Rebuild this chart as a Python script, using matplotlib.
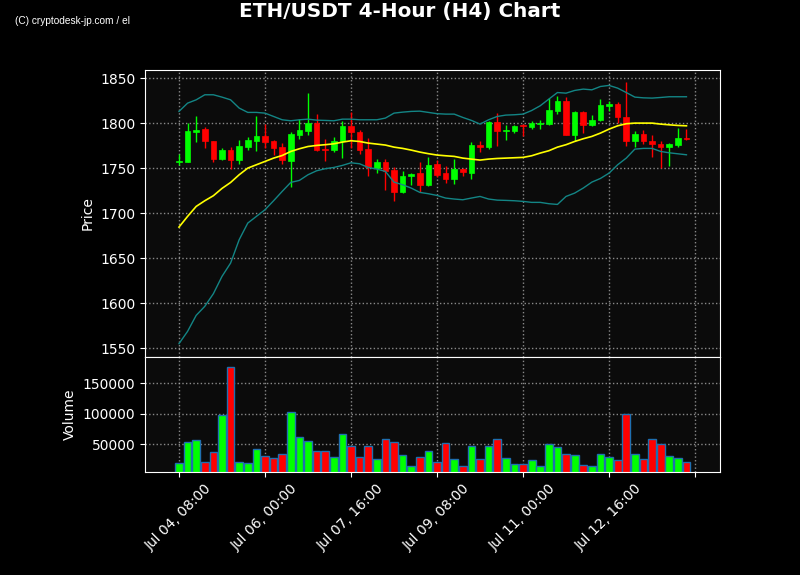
import matplotlib.pyplot as plt
import pandas as pd
from matplotlib.ticker import FuncFormatter

# 4時間足 ETH/USDT
opens = [1757, 1757, 1790, 1793, 1780, 1760, 1770, 1759, 1774, 1780,
         1786, 1780, 1773, 1758, 1787, 1791, 1800, 1771, 1770, 1780,
         1797, 1790, 1771, 1750, 1757, 1748, 1723, 1741, 1744, 1731,
         1754, 1744, 1738, 1749, 1745, 1776, 1773, 1801, 1791, 1791,
         1797.5, 1796, 1799.5, 1799, 1814, 1825, 1787, 1812, 1798, 1803,
         1819.5, 1821.5, 1807, 1780, 1788, 1780, 1777, 1774, 1776, 1783.7]
closes = [1758, 1791.5, 1792.6, 1780, 1760.4, 1770.4, 1759.3, 1774.4, 1781.5, 1786,
          1778.5, 1772, 1758.5, 1788, 1792.6, 1799.6, 1770.4, 1770.5, 1780.4, 1797,
          1789.6, 1770.4, 1751, 1756.7, 1747, 1723, 1741.5, 1743.7, 1731, 1753.7,
          1742.6, 1738, 1749.3, 1745.2, 1776, 1773, 1801.5, 1790.7, 1792.6, 1797,
          1796.5, 1800, 1800.3, 1814.8, 1824.8, 1787, 1812, 1798, 1803.7, 1820.4,
          1821.5, 1806.3, 1779.6, 1787.8, 1779.6, 1776.7, 1774, 1777, 1783.3, 1782]
highs = [1766, 1800, 1808, 1795.6, 1780.4, 1772, 1773.3, 1780.7, 1785, 1808,
         1799.3, 1781, 1777.8, 1789.6, 1804.4, 1833.3, 1810, 1782.2, 1784.4, 1801.9,
         1812.2, 1792.6, 1784, 1760, 1760, 1751, 1746.3, 1744.4, 1756.3, 1761.9,
         1758.5, 1751.9, 1760, 1750, 1778.9, 1780.4, 1802.2, 1811, 1798, 1797.5,
         1799.3, 1802.6, 1803, 1827.4, 1829.6, 1828.5, 1813.7, 1813, 1808.5, 1826.7,
         1824.8, 1823.3, 1845.2, 1790.7, 1792.6, 1786.3, 1779.6, 1777.5, 1794.4, 1793.3]
lows = [1753.7, 1757, 1779, 1772, 1756.3, 1759, 1748.9, 1754.8, 1769.6, 1769.3,
        1771.9, 1764.8, 1754.8, 1729, 1782.2, 1786.3, 1768.5, 1758, 1767.8, 1761,
        1772.6, 1765.6, 1741.5, 1744.4, 1726, 1713.7, 1722.2, 1731.5, 1723, 1729.6,
        1740, 1733.3, 1732.2, 1740.7, 1737.8, 1767.8, 1771.5, 1774.8, 1781, 1789,
        1786, 1794, 1794, 1797.4, 1810, 1787, 1779.6, 1789, 1796.3, 1802,
        1814, 1800, 1774.8, 1773.3, 1777, 1762.2, 1750, 1752.6, 1773.3, 1780.7]
volumes = [18900, 53300, 56600, 20500, 36900, 97500, 176200, 20500, 18900, 41800,
           30900, 27600, 34200, 102500, 61500, 54900, 38500, 38500, 28700, 66400,
           47300, 28700, 47300, 25400, 58200, 53300, 32500, 14500, 28700, 38500,
           20500, 51700, 25400, 14500, 46700, 25400, 46700, 58200, 27100, 17200,
           17200, 23800, 13900, 50000, 45100, 34200, 32000, 15600, 13900, 33600,
           28700, 23800, 99200, 34700, 25400, 58200, 50000, 30300, 27100, 20500]

# 移動平均とボリンジャーバンド
ma = [1684.4, 1696.3, 1707.4, 1713.7, 1719.3, 1727.4, 1734, 1742.6, 1750, 1753.7,
      1757.4, 1761.1, 1764, 1768.5, 1771.5, 1774, 1775.2, 1776, 1777, 1778.9,
      1780.4, 1779.6, 1777.8, 1776.7, 1775.6, 1773.3, 1771.9, 1770, 1767.8, 1766,
      1764.5, 1763.7, 1763, 1761.1, 1760, 1758.9, 1760, 1760.7, 1761.1, 1761.5,
      1761.9, 1763.7, 1766.7, 1769.3, 1773.3, 1776, 1779.6, 1782.6, 1785.2, 1788.9,
      1793.3, 1797, 1799.3, 1800, 1800, 1800, 1798.9, 1798.1, 1797.4, 1797]
upper = [1813, 1822.2, 1825.9, 1831.5, 1831.5, 1828.9, 1825.9, 1816.7, 1811.9, 1811.9,
         1811.1, 1807.4, 1803.7, 1802.6, 1803.7, 1804.4, 1803.3, 1803, 1802.6, 1804.4,
         1804.4, 1803.7, 1803.7, 1803.7, 1805.6, 1811.1, 1812.2, 1813, 1813.3, 1811.9,
         1810.5, 1810, 1810, 1806.3, 1803, 1798.9, 1803.7, 1807.4, 1808.9, 1809.3,
         1810, 1814, 1819.3, 1826.7, 1834, 1833.3, 1836.3, 1837.8, 1837, 1840.7,
         1841.9, 1838.9, 1834, 1828.9, 1828.1, 1827.8, 1828.5, 1829.3, 1829.3, 1829.3]
lower = [1554.8, 1568.5, 1586.3, 1596.3, 1610.4, 1629.6, 1644.4, 1670.4, 1688.9, 1696.3,
         1703.7, 1713.7, 1724.1, 1734.1, 1736.3, 1742.6, 1747, 1749.3, 1750.7, 1753,
         1755.9, 1754.8, 1750.7, 1748.9, 1746.3, 1734.4, 1731.5, 1727.8, 1723, 1721.5,
         1719.6, 1716.7, 1715.6, 1714.8, 1716.7, 1718.5, 1715.6, 1714.4, 1714.1, 1713.7,
         1713, 1711.9, 1711.9, 1710.4, 1709.6, 1718.5, 1722.2, 1727.8, 1734.4, 1738.5,
         1744.4, 1753.7, 1761.1, 1771.1, 1771.9, 1771.9, 1768.5, 1767, 1765.9, 1764.8]

dates = pd.date_range('2023-07-04 08:00', periods=len(opens), freq='4h')
x = list(range(len(opens)))
colors = ['#00ff00' if c >= o else '#ff0000' for o, c in zip(opens, closes)]

fig = plt.figure(figsize=(8, 5.75), dpi=100, facecolor='black')
ax = fig.add_axes([0.18125, 0.3791, 0.71875, 0.4991])
axv = fig.add_axes([0.18125, 0.1791, 0.71875, 0.2000], sharex=ax)

for a in (ax, axv):
    a.set_facecolor('#0b0b0b')
    for s in a.spines.values():
        s.set_color('white')
    a.tick_params(colors='white')
    a.grid(True, color='#aaaaaa', linestyle=':', linewidth=1, alpha=0.8)
    a.set_axisbelow(True)

# ローソク足
ax.vlines(x, lows, highs, colors=colors, linewidth=1)
bottoms = [min(o, c) for o, c in zip(opens, closes)]
heights = [max(abs(c - o), 0.6) for o, c in zip(opens, closes)]
ax.bar(x, heights, bottom=bottoms, width=0.66, color=colors, edgecolor=colors, linewidth=0.5)

ax.plot(x, ma, color='yellow', linewidth=1.2)
ax.plot(x, upper, color='#138585', linewidth=1)
ax.plot(x, lower, color='#138585', linewidth=1)

ax.set_ylim(1540, 1859)
ax.set_yticks([1550, 1600, 1650, 1700, 1750, 1800, 1850])
ax.set_ylabel('Price', color='white')
ax.tick_params(axis='x', labelbottom=False)

# 出来高
axv.bar(x, volumes, width=0.9, color=colors, edgecolor='#1f6fb0', linewidth=1)
axv.set_ylim(4600, 193000)
axv.set_yticks([50000, 100000, 150000])
axv.set_ylabel('Volume', color='white')

axv.set_xlim(-3.95, 62.9)
axv.set_xticks(range(0, 61, 10))


def fmt(v, pos):
    i = int(round(v))
    if 0 <= i < len(dates):
        return dates[i].strftime('Jul %d, %H:%M')
    return ''


axv.xaxis.set_major_formatter(FuncFormatter(fmt))
plt.setp(axv.get_xticklabels(), rotation=45)

fig.suptitle('ETH/USDT 4-Hour (H4) Chart', color='white', fontsize=14.4, fontweight='bold', y=0.997)
fig.text(0.019, 0.958, '(C) cryptodesk-jp.com / el', color='white', fontsize=7.3,
         family='Liberation Sans')

plt.savefig('out.png', facecolor='black')
